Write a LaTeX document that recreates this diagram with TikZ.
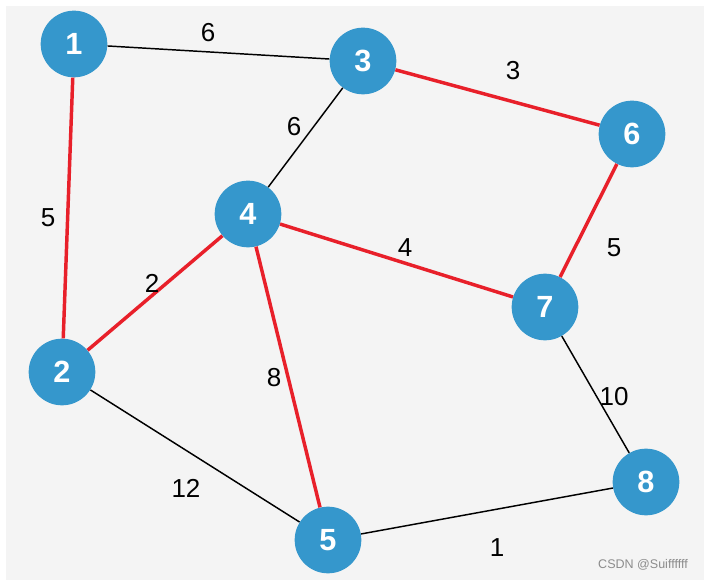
\documentclass[tikz,border=0pt]{standalone}
\usepackage{fontspec}
\setmainfont{Liberation Sans}
\definecolor{bg}{HTML}{F4F4F4}
\definecolor{nodeblue}{HTML}{3597CC}
\definecolor{edgered}{HTML}{E8202A}
\begin{document}
\begin{tikzpicture}[x=0.75pt,y=-0.75pt,
  vert/.style={circle,fill=nodeblue,minimum size=50pt,inner sep=0pt,text=white,font=\fontsize{23}{23}\selectfont\bfseries},
  plain/.style={draw=black,line width=1.1pt},
  chosen/.style={draw=edgered,line width=2.6pt},
  wlabel/.style={font=\fontsize{19.5}{19.5}\selectfont,text=black}]
\useasboundingbox (0,0) rectangle (704,580);
\fill[white] (0,0) rectangle (704,580);
\fill[bg] (6,6) rectangle (704,580);
\node[vert] (n1) at (74,44) {1};
\node[vert] (n3) at (363,61) {3};
\node[vert] (n6) at (632,134) {6};
\node[vert] (n4) at (248,214) {4};
\node[vert] (n7) at (545,307) {7};
\node[vert] (n2) at (62,372) {2};
\node[vert] (n8) at (646,482) {8};
\node[vert] (n5) at (328,540) {5};
\path[plain] (n1) -- (n3);
\path[plain] (n3) -- (n4);
\path[plain] (n7) -- (n8);
\path[plain] (n2) -- (n5);
\path[plain] (n5) -- (n8);
\path[chosen] (n1) -- (n2);
\path[chosen] (n3) -- (n6);
\path[chosen] (n6) -- (n7);
\path[chosen] (n4) -- (n7);
\path[chosen] (n2) -- (n4);
\path[chosen] (n4) -- (n5);
\node[wlabel] (l13) at (208,33) {6};
\node[wlabel] (l36) at (513,71) {3};
\node[wlabel] (l12) at (48,218) {5};
\node[wlabel] (l34) at (294,127) {6};
\node[wlabel] (l47) at (405,248) {4};
\node[wlabel] (l67) at (614,248) {5};
\node[wlabel] (l24) at (152,283) {2};
\node[wlabel] (l45) at (274,378) {8};
\node[wlabel] (l78) at (614,397) {10};
\node[wlabel] (l25) at (186,488) {12};
\node[wlabel] (l58) at (497,548) {1};
\node[text=gray!90,font=\fontsize{9.4}{9.4}\selectfont] (wm) at (643,565) {CSDN @Suiffffff};
\end{tikzpicture}
\end{document}
